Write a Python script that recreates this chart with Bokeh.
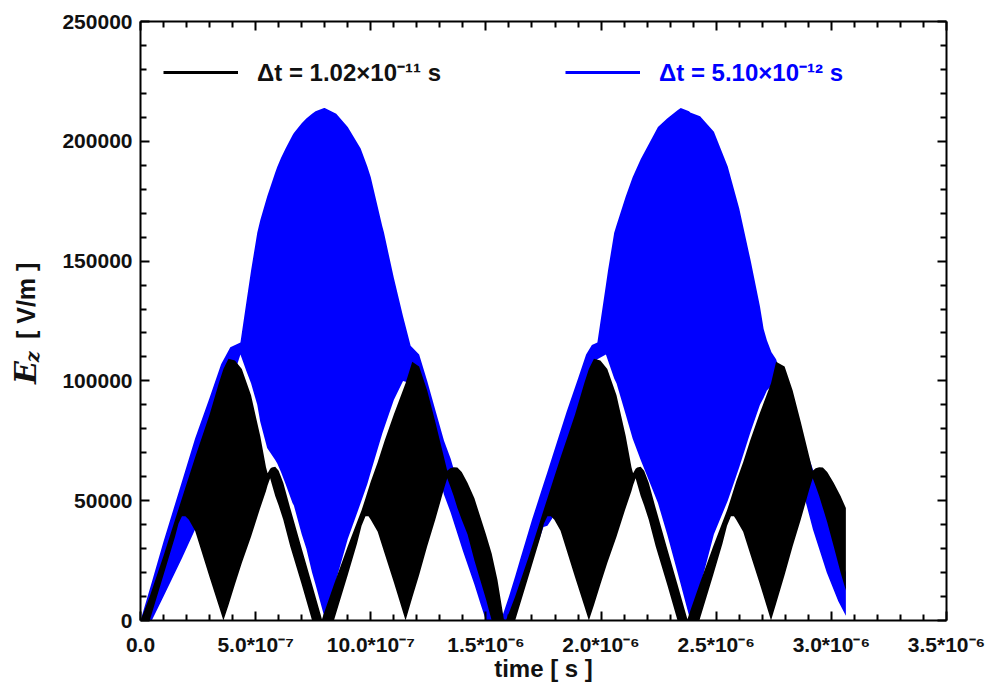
import numpy as np
from bokeh.plotting import figure
from bokeh.layouts import row
from bokeh.models import Range1d, LinearAxis, FixedTicker, Label, Legend, LegendItem
from bokeh.embed import file_html
from bokeh.resources import INLINE

# ---- data (time in microseconds, field in V/m) ----
# Each series is drawn as the band swept by its fast oscillation: lower / upper envelope.
blue_t_us = [0.000, 0.049, 0.100, 0.180, 0.237, 0.300, 0.350, 0.390, 0.434, 0.460,
             0.480, 0.507, 0.520, 0.550, 0.585, 0.594, 0.610, 0.630, 0.660, 0.666,
             0.700, 0.720, 0.745, 0.760, 0.797, 0.800, 0.850, 0.900, 0.956, 0.985,
             1.000, 1.050, 1.057, 1.100, 1.140, 1.173, 1.210, 1.245, 1.280, 1.318,
             1.347, 1.400, 1.450, 1.477, 1.500, 1.540, 1.565,
             1.600, 1.627, 1.650, 1.700, 1.750, 1.767, 1.787, 1.850, 1.900, 1.935,
             1.960, 1.984, 2.021, 2.030, 2.057, 2.067, 2.107, 2.137, 2.172, 2.197,
             2.247, 2.287, 2.332, 2.346, 2.382, 2.387, 2.430, 2.490, 2.550, 2.600,
             2.650, 2.690, 2.706, 2.720, 2.740, 2.760, 2.800, 2.860, 2.920, 2.980,
             3.030, 3.063]
blue_lower = [0, 0, 10000, 26000, 38000, 60000, 82000, 98000, 111000, 104000,
              99000, 90000, 83000, 72000, 67000, 65500, 62000, 57000, 49000, 48000,
              36000, 30000, 20000, 15000, 2000, 0, 17000, 34000, 49000, 57000,
              62000, 78000, 80000, 92000, 100000, 99000, 91000, 80000, 66000, 52500,
              45000, 29000, 15000, 6800, 0, 0, 0,
              0, 2000, 9000, 25000, 39000, 39500, 42500, 60000, 80000, 95000,
              104000, 109000, 111000, 108500, 101000, 99000, 86000, 76000, 67000, 61000,
              49000, 36000, 20000, 15000, 2000, 0, 14000, 36000, 50000, 64000,
              79000, 90000, 93000, 96000, 98000, 96000, 82000, 60000, 38000, 20000,
              8000, 2000]
blue_upper = [0, 16000, 33000, 58000, 76000, 93000, 107000, 114000, 116000, 133000,
              146000, 161800, 167000, 177000, 187000, 189400, 193000, 197000, 202500, 203500,
              207500, 209500, 211500, 212500, 213900, 213900, 211500, 206000, 197000, 189500,
              185000, 164500, 162000, 143000, 127000, 114700, 111000, 100000, 88000, 75000,
              67500, 50000, 35000, 27000, 19000, 6000, 0,
              10000, 18500, 26000, 42000, 57000, 62000, 68000, 87000, 101000, 111000,
              115000, 116000, 140000, 146000, 161800, 165000, 177000, 185000, 192500, 197000,
              206000, 209500, 213000, 213900, 212500, 212000, 210500, 204000, 189500, 172000,
              150000, 131000, 121700, 117000, 112000, 109000, 97000, 80000, 63000, 45000,
              30000, 20000]

black_t_us = [0.000, 0.040, 0.100, 0.150, 0.165, 0.180, 0.195, 0.210, 0.237, 0.300,
              0.340, 0.360, 0.382, 0.410, 0.440, 0.480, 0.520, 0.545, 0.552, 0.563,
              0.570, 0.585, 0.600, 0.620, 0.650, 0.700, 0.745, 0.788, 0.800, 0.840,
              0.900, 0.940, 0.960, 0.977, 0.990, 1.000, 1.030, 1.060, 1.100, 1.151,
              1.180, 1.210, 1.245, 1.280, 1.318, 1.332, 1.345, 1.360, 1.376, 1.395,
              1.420, 1.450, 1.500, 1.525, 1.550, 1.578,
              1.587, 1.627, 1.687, 1.737, 1.752, 1.767, 1.782, 1.797, 1.824, 1.887,
              1.927, 1.947, 1.969, 1.997, 2.027, 2.067, 2.107, 2.132, 2.139, 2.150,
              2.157, 2.172, 2.187, 2.207, 2.237, 2.287, 2.332, 2.375, 2.387, 2.427,
              2.487, 2.527, 2.547, 2.564, 2.577, 2.587, 2.617, 2.647, 2.687, 2.738,
              2.760, 2.797, 2.832, 2.867, 2.905, 2.919, 2.932, 2.947, 2.963, 2.982,
              3.010, 3.040, 3.063]
black_lower = [0, 0, 19000, 35000, 40500, 43500, 43500, 42000, 37500, 18000,
               6000, 0, 6400, 15000, 24000, 35000, 47000, 54000, 56500, 59400,
               57000, 52000, 48000, 42000, 31000, 15000, 0, 0, 0, 0,
               19000, 32000, 39500, 43500, 43500, 42000, 37000, 28000, 16000, 0,
               9500, 19000, 31000, 42000, 55000, 59400, 56000, 52000, 47000, 42000,
               36000, 25000, 9000, 0, 0, 0,
               0, 0, 19000, 35000, 40500, 43500, 43500, 42000, 37500, 18000,
               6000, 0, 6400, 15000, 24000, 35000, 47000, 54000, 56500, 59400,
               57000, 52000, 48000, 42000, 31000, 15000, 0, 0, 0, 0,
               19000, 32000, 39500, 43500, 43500, 42000, 37000, 28000, 16000, 0,
               7000, 19000, 31000, 42000, 55000, 59400, 56000, 52000, 47000, 41000,
               31000, 20000, 12500]
black_upper = [0, 10000, 27000, 42000, 46500, 51000, 55500, 60000, 68000, 86000,
               99000, 105000, 109200, 108500, 105000, 94000, 77000, 64000, 61500, 63300,
               63900, 64200, 62500, 57500, 47000, 30000, 15000, 500, 4000, 15000,
               31000, 41000, 46000, 51000, 55000, 58000, 66000, 75000, 86000, 99000,
               108000, 106000, 96000, 83000, 68000, 62500, 63500, 64000, 63900, 62000,
               57500, 51000, 36000, 28000, 17000, 500,
               0, 10000, 27000, 42000, 46500, 51000, 55500, 60000, 68000, 86000,
               99000, 105000, 109200, 108500, 105000, 94000, 77000, 64000, 61500, 63300,
               63900, 64200, 62500, 57500, 47000, 30000, 15000, 500, 4000, 15000,
               31000, 41000, 46000, 51000, 55000, 58000, 66000, 75000, 86000, 99000,
               108000, 106000, 96000, 83000, 68000, 62500, 63500, 64000, 63900, 62000,
               57500, 52000, 47000]

x_ticks = [0.0, 5e-7, 1e-6, 1.5e-6, 2e-6, 2.5e-6, 3e-6, 3.5e-6]
x_tick_labels = ["0.0", "5.0*10\u207b\u2077", "10.0*10\u207b\u2077", "1.5*10\u207b\u2076",
                 "2.0*10\u207b\u2076", "2.5*10\u207b\u2076", "3.0*10\u207b\u2076", "3.5*10\u207b\u2076"]
y_ticks = [0, 50000, 100000, 150000, 200000, 250000]
legend_black = "\u0394t = 1.02\u00d710\u207b\u00b9\u00b9 s"
legend_blue = "\u0394t = 5.10\u00d710\u207b\u00b9\u00b2 s"

BLUE = "#0000ff"
FONT = "Liberation Sans"
INK = "#111111"

blue_t = np.array(blue_t_us) * 1e-6
black_t = np.array(black_t_us) * 1e-6

LEFT_W = 55
p = figure(width=991 - LEFT_W, height=684, output_backend="svg", toolbar_location=None,
           x_range=Range1d(0, 3.5e-6), y_range=Range1d(0, 250000),
           min_border_left=140 - LEFT_W, min_border_right=45, min_border_top=21,
           min_border_bottom=61, outline_line_color=None)
p.grid.visible = False

p.varea(x=blue_t, y1=blue_lower, y2=blue_upper, fill_color=BLUE)
p.varea(x=black_t, y1=black_lower, y2=black_upper, fill_color="black")

# legend handles (a single invisible point so that the legend draws the line)
lb = p.line(x=[np.nan], y=[np.nan], line_color="black", line_width=3)
lbl = p.line(x=[np.nan], y=[np.nan], line_color=BLUE, line_width=3)

minor_x = [i * 1e-7 for i in range(36) if i % 5 != 0]
minor_y = [i * 10000 for i in range(26) if i % 5 != 0]

def style(ax, labels=True):
    ax.axis_line_width = 2
    ax.axis_line_color = "black"
    ax.major_tick_in = 9
    ax.major_tick_out = 0
    ax.minor_tick_in = 6
    ax.minor_tick_out = 0
    ax.major_tick_line_width = 2
    ax.minor_tick_line_width = 2
    ax.major_label_text_font = FONT
    ax.major_label_text_font_style = "bold"
    ax.major_label_text_font_size = "21px"
    ax.major_label_text_color = INK
    if not labels:
        ax.major_label_text_color = None
        ax.major_label_standoff = 0

xa = p.xaxis[0]
xa.ticker = FixedTicker(ticks=x_ticks, minor_ticks=minor_x)
xa.major_label_overrides = {t: s for t, s in zip(x_ticks, x_tick_labels)}
xa.major_label_standoff = 12
xa.axis_label = "time [ s ]"
xa.axis_label_standoff = -4
xa.axis_label_text_font = FONT
xa.axis_label_text_font_style = "bold"
xa.axis_label_text_font_size = "24px"
xa.axis_label_text_color = INK
style(xa)
ya = p.yaxis[0]
ya.ticker = FixedTicker(ticks=y_ticks, minor_ticks=minor_y)
ya.major_label_overrides = {t: str(t) for t in y_ticks}
ya.major_label_standoff = 8
style(ya)

top = LinearAxis(ticker=FixedTicker(ticks=x_ticks, minor_ticks=minor_x))
style(top, labels=False)
p.add_layout(top, "above")
right = LinearAxis(ticker=FixedTicker(ticks=y_ticks, minor_ticks=minor_y))
style(right, labels=False)
p.add_layout(right, "right")

def make_legend(renderer, text, color, x):
    leg = Legend(items=[LegendItem(label=text, renderers=[renderer])], location=(x, 532),
                 orientation="horizontal", glyph_width=75, glyph_height=26, label_height=26,
                 label_standoff=19, padding=0, margin=0, spacing=0,
                 border_line_color=None, background_fill_alpha=0,
                 label_text_font=FONT, label_text_font_style="bold",
                 label_text_font_size="24px", label_text_color=color)
    p.add_layout(leg)

make_legend(lb, legend_black, INK, 23)
make_legend(lbl, legend_blue, BLUE, 425)

# narrow strip on the left holding the y-axis title (E_z in bold italic serif)
lab = figure(width=LEFT_W, height=684, output_backend="svg", toolbar_location=None,
             title=None, x_range=Range1d(0, LEFT_W), y_range=Range1d(0, 684), min_border=0,
             outline_line_color=None, x_axis_type=None, y_axis_type=None)
lab.grid.visible = False
lab.add_layout(Label(x=25, y=283, text="E", angle=np.pi / 2,
                     text_font="DejaVu Serif", text_font_style="bold italic",
                     text_font_size="30px", text_align="center", text_baseline="middle",
                     text_color=INK))
lab.add_layout(Label(x=31, y=301, text="z", angle=np.pi / 2,
                     text_font="DejaVu Serif", text_font_style="bold italic",
                     text_font_size="19px", text_align="center", text_baseline="middle",
                     text_color=INK))
lab.add_layout(Label(x=25, y=365, text="[ V/m ]", angle=np.pi / 2,
                     text_font=FONT, text_font_style="bold", text_font_size="25px",
                     text_align="center", text_baseline="middle", text_color=INK))

open("out.html", "w").write(file_html(row(lab, p), INLINE))
